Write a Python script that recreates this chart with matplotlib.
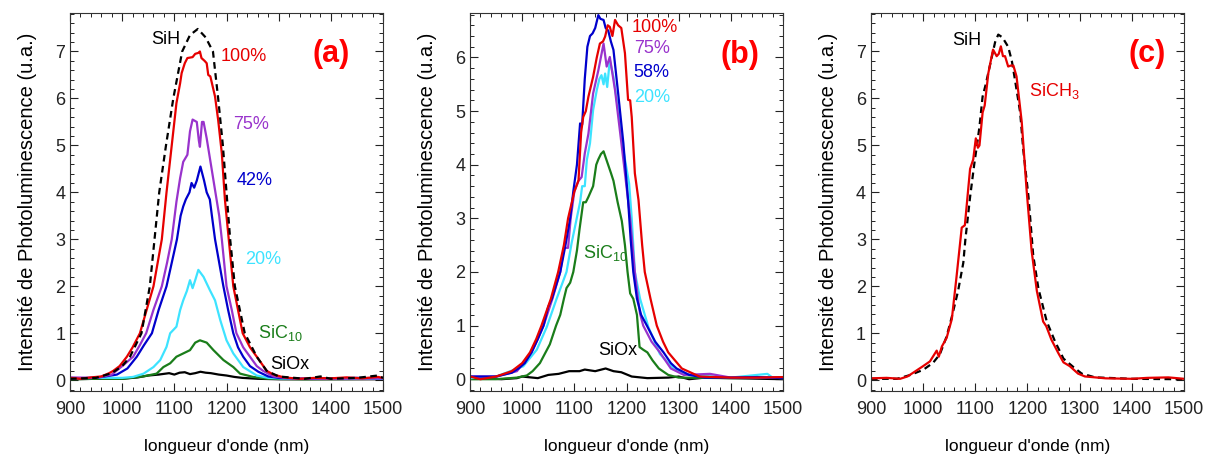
import numpy as np
import matplotlib
matplotlib.use("Agg")
import matplotlib.pyplot as plt
from matplotlib.ticker import MultipleLocator

plt.rcParams['font.family'] = ['Liberation Sans', 'DejaVu Sans']
plt.rcParams['mathtext.fontset'] = 'custom'
plt.rcParams['mathtext.rm'] = 'Liberation Sans'
plt.rcParams['mathtext.it'] = 'Liberation Sans:italic'
plt.rcParams['mathtext.bf'] = 'Liberation Sans:bold'

# colours
RED = '#e60000'
PURPLE = '#9933cc'
BLUE = '#0000cc'
CYAN = '#3de3ff'
GREEN = '#1a7d1a'

# ---------------- panel (a) ----------------
a_sih_x = [900, 950, 980, 1000, 1015, 1037, 1053, 1062, 1071, 1084, 1098, 1115, 1130, 1145,
           1160, 1174, 1184, 1193, 1200, 1207, 1216, 1235, 1258, 1277, 1300, 1350, 1380, 1400, 1450, 1490, 1500]
a_sih_y = [0.03, 0.05, 0.15, 0.3, 0.5, 1.0, 2.0, 3.0, 4.0, 5.0, 6.0, 7.0, 7.35, 7.48,
           7.3, 7.0, 6.0, 5.0, 4.0, 3.0, 2.0, 1.0, 0.5, 0.2, 0.08, 0.03, 0.08, 0.03, 0.05, 0.1, 0.05]

a_100_x = [900, 920, 940, 960, 975, 983, 995, 1009, 1020, 1034, 1047, 1060, 1068, 1076, 1085, 1095,
           1104, 1111, 1114, 1120, 1125, 1135, 1140, 1146, 1149, 1152, 1158, 1162, 1165, 1169, 1178,
           1184, 1191, 1197, 1213, 1231, 1245, 1258, 1277, 1290, 1310, 1340, 1370, 1400, 1430, 1460, 1490, 1500]
a_100_y = [0.05, 0.03, 0.06, 0.08, 0.15, 0.2, 0.3, 0.5, 0.7, 1.0, 1.5, 2.0, 2.5, 3.0, 4.0, 5.0,
           5.9, 6.32, 6.54, 6.75, 6.86, 6.88, 6.95, 6.97, 7.0, 6.86, 6.8, 6.75, 6.5, 6.47, 6.04,
           5.54, 4.83, 3.84, 2.0, 1.0, 0.7, 0.5, 0.2, 0.12, 0.06, 0.03, 0.05, 0.04, 0.06, 0.04, 0.07, 0.05]

a_75_x = [900, 950, 980, 1000, 1021, 1034, 1046, 1060, 1076, 1086, 1095, 1104, 1111, 1117, 1125, 1130,
          1135, 1143, 1147, 1149, 1153, 1156, 1162, 1170, 1178, 1186, 1191, 1200, 1210, 1219, 1232,
          1245, 1258, 1270, 1290, 1320, 1400, 1500]
a_75_y = [0.06, 0.05, 0.12, 0.3, 0.5, 0.75, 1.0, 1.5, 2.0, 2.5, 3.0, 3.8, 4.3, 4.65, 4.8, 5.3,
          5.55, 5.5, 5.1, 4.97, 5.5, 5.5, 5.15, 4.6, 4.05, 3.5, 3.0, 2.0, 1.5, 1.0, 0.7,
          0.5, 0.3, 0.2, 0.08, 0.04, 0.03, 0.04]

a_42_x = [900, 950, 990, 1010, 1028, 1042, 1057, 1070, 1085, 1095, 1105, 1112, 1117, 1122, 1129, 1133,
          1138, 1143, 1150, 1157, 1162, 1168, 1172, 1178, 1186, 1194, 1203, 1213, 1222, 1232, 1245,
          1261, 1280, 1300, 1350, 1400, 1450, 1500]
a_42_y = [0.04, 0.05, 0.12, 0.25, 0.5, 0.75, 1.0, 1.5, 2.0, 2.5, 3.0, 3.5, 3.7, 3.85, 4.0, 4.2,
          4.1, 4.25, 4.55, 4.25, 4.0, 3.85, 3.5, 3.0, 2.5, 2.0, 1.5, 1.0, 0.7, 0.5, 0.3,
          0.18, 0.08, 0.05, 0.03, 0.04, 0.05, 0.04]

a_20_x = [900, 950, 1000, 1021, 1041, 1060, 1073, 1085, 1092, 1104, 1111, 1117, 1124, 1130, 1135,
          1140, 1146, 1156, 1168, 1178, 1188, 1200, 1213, 1232, 1258, 1280, 1320, 1400, 1500]
a_20_y = [0.04, 0.05, 0.05, 0.07, 0.14, 0.28, 0.43, 0.71, 1.0, 1.14, 1.49, 1.7, 1.9, 2.13, 1.96,
          2.13, 2.35, 2.2, 1.92, 1.7, 1.28, 0.85, 0.57, 0.28, 0.1, 0.05, 0.03, 0.04, 0.03]

a_sic_x = [900, 950, 1000, 1040, 1066, 1079, 1092, 1104, 1117, 1130, 1140, 1149, 1162, 1175, 1194,
           1213, 1226, 1251, 1280, 1350, 1500]
a_sic_y = [0.02, 0.03, 0.03, 0.08, 0.14, 0.28, 0.36, 0.5, 0.57, 0.64, 0.8, 0.85, 0.8, 0.64, 0.43,
           0.28, 0.14, 0.07, 0.03, 0.02, 0.03]

a_siox_x = [900, 950, 1000, 1030, 1050, 1070, 1090, 1100, 1110, 1120, 1130, 1140, 1150, 1160, 1170,
            1185, 1200, 1215, 1230, 1260, 1300, 1500]
a_siox_y = [0.02, 0.03, 0.03, 0.06, 0.1, 0.12, 0.15, 0.12, 0.16, 0.17, 0.13, 0.15, 0.18, 0.16, 0.15,
            0.12, 0.1, 0.07, 0.05, 0.03, 0.02, 0.02]

# ---------------- panel (b) ----------------
b_100_x = [900, 920, 950, 980, 1000, 1015, 1027, 1037, 1055, 1069, 1080, 1088, 1100, 1108, 1113,
           1117, 1122, 1127, 1136, 1143, 1149, 1155, 1159, 1164, 1168, 1173, 1178, 1184, 1190,
           1197, 1203, 1207, 1210, 1216, 1223, 1230, 1235, 1246, 1258, 1270, 1280, 1306, 1340,
           1400, 1450, 1500]
b_100_y = [0.05, 0.0, 0.05, 0.15, 0.3, 0.5, 0.75, 1.0, 1.5, 2.0, 2.5, 3.0, 3.5, 3.71, 4.6,
           4.89, 5.0, 5.27, 5.64, 6.0, 6.26, 6.3, 6.39, 6.6, 6.57, 6.4, 6.7, 6.6, 6.55,
           6.08, 5.21, 5.2, 4.89, 3.84, 3.34, 2.5, 2.0, 1.5, 1.0, 0.7, 0.5, 0.2, 0.05,
           0.03, 0.03, 0.04]

b_75_x = [900, 950, 990, 1018, 1030, 1041, 1058, 1073, 1080, 1088, 1093, 1100, 1108, 1114, 1120,
          1127, 1136, 1146, 1156, 1162, 1168, 1178, 1188, 1197, 1207, 1216, 1222, 1226, 1232,
          1248, 1264, 1285, 1310, 1360, 1400, 1500]
b_75_y = [0.05, 0.05, 0.15, 0.5, 0.75, 1.0, 1.5, 2.0, 2.45, 2.45, 3.0, 3.5, 3.7, 3.77, 4.21,
          4.58, 5.33, 5.76, 6.26, 5.83, 6.01, 5.39, 4.58, 3.84, 3.0, 2.0, 1.5, 1.22, 1.0,
          0.7, 0.5, 0.2, 0.08, 0.1, 0.03, 0.03]

b_58_x = [900, 950, 980, 993, 1005, 1018, 1030, 1041, 1050, 1057, 1065, 1073, 1083, 1092, 1098,
          1105, 1111, 1115, 1120, 1125, 1130, 1135, 1140, 1146, 1150, 1156, 1160, 1165, 1170,
          1175, 1184, 1194, 1203, 1208, 1213, 1220, 1228, 1239, 1255, 1271, 1285, 1296, 1320,
          1350, 1400, 1450, 1500]
b_58_y = [0.05, 0.05, 0.12, 0.2, 0.3, 0.5, 0.75, 1.0, 1.35, 1.5, 1.75, 2.0, 2.5, 3.0, 3.5,
          4.0, 4.77, 4.75, 5.6, 6.2, 6.4, 6.45, 6.55, 6.79, 6.72, 6.7, 6.55, 6.5, 6.3,
          6.14, 5.33, 4.4, 3.34, 2.6, 2.0, 1.5, 1.2, 1.0, 0.7, 0.5, 0.3, 0.2, 0.08,
          0.03, 0.03, 0.04, 0.02]

b_20_x = [900, 950, 1002, 1028, 1047, 1066, 1085, 1095, 1111, 1115, 1120, 1124, 1130, 1136, 1143,
          1148, 1152, 1156, 1159, 1163, 1168, 1175, 1184, 1194, 1205, 1210, 1216, 1226, 1242,
          1264, 1290, 1320, 1400, 1470, 1480, 1500]
b_20_y = [0.02, 0.05, 0.24, 0.55, 0.97, 1.5, 2.0, 2.55, 3.3, 3.6, 3.6, 4.09, 4.4, 5.02, 5.39,
          5.6, 5.67, 5.5, 5.7, 5.45, 5.95, 5.64, 5.02, 4.27, 3.65, 3.0, 2.0, 1.5, 0.97,
          0.47, 0.2, 0.08, 0.03, 0.1, 0.03, 0.02]

b_sic_x = [900, 950, 990, 1009, 1020, 1034, 1053, 1065, 1073, 1080, 1085, 1092, 1098, 1105, 1110,
           1117, 1122, 1127, 1136, 1142, 1146, 1151, 1156, 1163, 1170, 1175, 1183, 1191, 1197,
           1202, 1207, 1213, 1220, 1225, 1232, 1240, 1250, 1262, 1280, 1300, 1400, 1500]
b_sic_y = [0.0, 0.0, 0.03, 0.07, 0.15, 0.3, 0.65, 1.0, 1.2, 1.5, 1.7, 1.8, 2.0, 2.4, 2.8,
           3.3, 3.3, 3.4, 3.6, 4.0, 4.1, 4.2, 4.25, 4.05, 3.85, 3.7, 3.3, 2.95, 2.5,
           2.0, 1.6, 1.5, 1.2, 0.6, 0.55, 0.5, 0.35, 0.2, 0.08, 0.03, 0.02, 0.03]

b_siox_x = [900, 930, 960, 990, 1000, 1030, 1050, 1070, 1090, 1110, 1120, 1140, 1160, 1175, 1190,
            1210, 1240, 1280, 1300, 1320, 1350, 1400, 1500]
b_siox_y = [0.03, 0.02, 0.0, 0.02, 0.05, 0.02, 0.08, 0.1, 0.15, 0.15, 0.18, 0.15, 0.2, 0.15, 0.13,
            0.05, 0.02, 0.03, 0.05, 0.0, 0.03, 0.02, 0.0]

# ---------------- panel (c) ----------------
c_sih_x = [900, 950, 975, 1000, 1019, 1032, 1045, 1055, 1067, 1077, 1081, 1090, 1098, 1103, 1108,
           1114, 1120, 1130, 1138, 1144, 1152, 1163, 1170, 1176, 1186, 1192, 1202, 1211, 1221,
           1237, 1253, 1269, 1288, 1304, 1330, 1400, 1500]
c_sih_y = [0.03, 0.03, 0.11, 0.22, 0.37, 0.55, 0.93, 1.35, 1.9, 2.5, 3.0, 3.9, 4.6, 4.99, 5.4,
           6.04, 6.3, 6.8, 7.2, 7.36, 7.3, 7.1, 6.8, 6.4, 5.7, 4.9, 3.9, 2.66, 1.95,
           1.25, 0.82, 0.46, 0.28, 0.14, 0.06, 0.03, 0.02]

c_ch3_x = [900, 930, 956, 970, 981, 1000, 1013, 1026, 1030, 1036, 1045, 1055, 1064, 1074, 1080,
           1090, 1096, 1101, 1105, 1108, 1114, 1118, 1125, 1134, 1141, 1145, 1149, 1153, 1157,
           1163, 1168, 1173, 1179, 1189, 1198, 1208, 1218, 1230, 1236, 1246, 1259, 1269, 1281,
           1297, 1310, 1350, 1400, 1430, 1470, 1500]
c_ch3_y = [0.04, 0.05, 0.03, 0.08, 0.16, 0.3, 0.4, 0.63, 0.5, 0.72, 0.9, 1.3, 2.2, 3.25, 3.3,
           4.5, 4.7, 5.15, 4.95, 5.0, 5.7, 5.85, 6.54, 7.04, 6.9, 6.95, 7.11, 6.9, 6.9,
           6.68, 6.7, 6.7, 6.47, 5.5, 4.1, 2.75, 1.9, 1.25, 1.15, 0.86, 0.58, 0.38, 0.3,
           0.14, 0.08, 0.04, 0.03, 0.05, 0.06, 0.03]

fig = plt.figure(figsize=(12.11, 4.57), dpi=100)
W, H = 0.2585, 0.8272
ax_a = fig.add_axes([0.0578, 0.1444, W, H])
ax_b = fig.add_axes([0.3881, 0.1444, W, H])
ax_c = fig.add_axes([0.7192, 0.1444, W, H])

LW = 1.6
FS = 13


def style(ax, ylim):
    ax.set_xlim(900, 1500)
    ax.set_ylim(*ylim)
    ax.xaxis.set_major_locator(MultipleLocator(100))
    ax.xaxis.set_minor_locator(MultipleLocator(20))
    ax.yaxis.set_major_locator(MultipleLocator(1))
    ax.yaxis.set_minor_locator(MultipleLocator(0.2))
    ax.tick_params(which='both', direction='in', top=True, right=True, labelsize=13, colors='#222222')
    ax.tick_params(which='major', length=6, width=0.8)
    ax.tick_params(axis='x', which='major', pad=7)
    ax.tick_params(which='minor', length=3, width=0.7)
    for s in ax.spines.values():
        s.set_linewidth(0.8)
        s.set_color('#333333')
    ax.set_xlabel("longueur d'onde (nm)", fontsize=12.5, labelpad=15)
    ax.set_ylabel("Intensité de Photoluminescence (u.a.)", fontsize=14.5, labelpad=13)


# panel (a)
ax_a.plot(a_siox_x, a_siox_y, color='black', lw=LW)
ax_a.plot(a_sic_x, a_sic_y, color=GREEN, lw=LW)
ax_a.plot(a_20_x, a_20_y, color=CYAN, lw=LW)
ax_a.plot(a_42_x, a_42_y, color=BLUE, lw=LW)
ax_a.plot(a_75_x, a_75_y, color=PURPLE, lw=LW)
ax_a.plot(a_100_x, a_100_y, color=RED, lw=LW)
ax_a.plot(a_sih_x, a_sih_y, color='black', lw=LW, ls=(0, (3, 2)))
style(ax_a, (-0.23, 7.82))
ax_a.text(1112, 7.25, 'SiH', fontsize=FS, ha='right', va='center')
ax_a.text(1188, 6.9, '100%', fontsize=FS, color=RED, va='center')
ax_a.text(1212, 5.45, '75%', fontsize=FS, color=PURPLE, va='center')
ax_a.text(1220, 4.25, '42%', fontsize=FS, color=BLUE, va='center')
ax_a.text(1236, 2.58, '20%', fontsize=FS, color=CYAN, va='center')
ax_a.text(1261, 1.0, r'SiC$_{\mathrm{10}}$', fontsize=FS, color=GREEN, va='center')
ax_a.text(1283, 0.33, 'SiOx', fontsize=FS, va='center')
ax_a.text(1400, 6.95, '(a)', fontsize=22, color='#ff0000', fontweight='bold', ha='center', va='center')

# panel (b)
ax_b.plot(b_siox_x, b_siox_y, color='black', lw=LW)
ax_b.plot(b_sic_x, b_sic_y, color=GREEN, lw=LW)
ax_b.plot(b_20_x, b_20_y, color=CYAN, lw=LW)
ax_b.plot(b_75_x, b_75_y, color=PURPLE, lw=LW)
ax_b.plot(b_58_x, b_58_y, color=BLUE, lw=LW)
ax_b.plot(b_100_x, b_100_y, color=RED, lw=LW)
style(ax_b, (-0.22, 6.83))
ax_b.text(1210, 6.56, '100%', fontsize=FS, color=RED, va='center')
ax_b.text(1215, 6.16, '75%', fontsize=FS, color=PURPLE, va='center')
ax_b.text(1213, 5.72, '58%', fontsize=FS, color=BLUE, va='center')
ax_b.text(1215, 5.26, '20%', fontsize=FS, color=CYAN, va='center')
ax_b.text(1117, 2.35, r'SiC$_{\mathrm{10}}$', fontsize=FS, color=GREEN, va='center')
ax_b.text(1146, 0.53, 'SiOx', fontsize=FS, va='center')
ax_b.text(1418, 6.05, '(b)', fontsize=22, color='#ff0000', fontweight='bold', ha='center', va='center')

# panel (c)
ax_c.plot(c_sih_x, c_sih_y, color='black', lw=LW, ls=(0, (3, 2)))
ax_c.plot(c_ch3_x, c_ch3_y, color=RED, lw=LW)
style(ax_c, (-0.23, 7.82))
ax_c.text(1112, 7.23, 'SiH', fontsize=FS, ha='right', va='center')
ax_c.text(1202, 6.15, r'SiCH$_{\mathrm{3}}$', fontsize=FS, color=RED, va='center')
ax_c.text(1430, 6.95, '(c)', fontsize=22, color='#ff0000', fontweight='bold', ha='center', va='center')

fig.savefig('out.png', dpi=100)
